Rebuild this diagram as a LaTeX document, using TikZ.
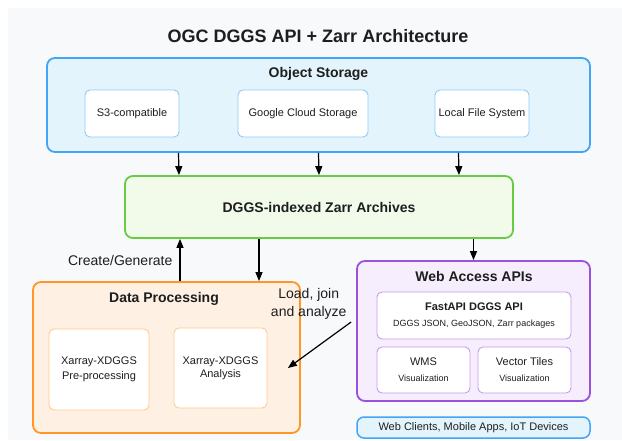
\documentclass[tikz,border=0pt]{standalone}
\usepackage{fontspec}
\setmainfont{Liberation Sans}
\usetikzlibrary{arrows.meta}

\definecolor{bgGray}{HTML}{F8F9FA}
\definecolor{inkDark}{HTML}{1E1E1E}
\definecolor{storeLine}{HTML}{42A5F5}
\definecolor{storeFill}{HTML}{E3F4FD}
\definecolor{storeItem}{HTML}{90CAF9}
\definecolor{zarrLine}{HTML}{66CC44}
\definecolor{zarrFill}{HTML}{F2FAEA}
\definecolor{procLine}{HTML}{FF9626}
\definecolor{procFill}{HTML}{FFF0E4}
\definecolor{procItem}{HTML}{FFCB8E}
\definecolor{webLine}{HTML}{9B51E0}
\definecolor{webFill}{HTML}{F6EEFC}
\definecolor{webItem}{HTML}{C49CF0}

\begin{document}
\begin{tikzpicture}[x=1pt,y=-1pt,
    group/.style={draw,line width=1.8pt,rounded corners=8pt,inner sep=0pt},
    item/.style={draw,line width=0.9pt,rounded corners=5pt,fill=white,inner sep=0pt,
      align=center,text=inkDark,font=\fontsize{11}{14}\selectfont},
    head/.style={text=inkDark,font=\bfseries\fontsize{14}{16}\selectfont},
    arr/.style={-{Triangle[length=9pt,width=7pt]},line width=1.2pt}]
  \useasboundingbox (0,0) rectangle (622,440);
  \fill[bgGray] (8,8) rectangle (622,440);

  % Title
  \node[text=inkDark,font=\bfseries\fontsize{18}{22}\selectfont] (title) at (318,36)
    {OGC DGGS API + Zarr Architecture};

  % Object storage
  \node[group,draw=storeLine,fill=storeFill,minimum width=543pt,minimum height=94pt] (store) at (318.5,105) {};
  \node[head] (storeT) at (318.5,74) {Object Storage};
  \node[item,draw=storeItem,minimum width=94pt,minimum height=47pt] (s3) at (132,113.5) {S3-compatible};
  \node[item,draw=storeItem,minimum width=130pt,minimum height=47pt] (gcs) at (303,113.5) {Google Cloud Storage};
  \node[item,draw=storeItem,minimum width=94pt,minimum height=47pt] (lfs) at (482,113.5) {Local File System};

  % Zarr archives
  \node[group,draw=zarrLine,fill=zarrFill,minimum width=388pt,minimum height=62pt,head] (zarr) at (319,207)
    {DGGS-indexed Zarr Archives};

  % Data processing
  \node[group,draw=procLine,fill=procFill,minimum width=267pt,minimum height=151pt] (proc) at (166.5,357.5) {};
  \node[head] (procT) at (164,299) {Data Processing};
  \node[item,draw=procItem,minimum width=100pt,minimum height=81pt,font=\fontsize{11}{15}\selectfont] (pre) at (99,369.5)
    {Xarray-XDGGS\\Pre-processing};
  \node[item,draw=procItem,minimum width=93pt,minimum height=80pt,font=\fontsize{11}{13}\selectfont] (ana) at (220.5,368)
    {Xarray-XDGGS\\Analysis};

  % Web access
  \node[group,draw=webLine,fill=webFill,minimum width=233pt,minimum height=140pt] (web) at (473.5,331) {};
  \node[head] (webT) at (474,276) {Web Access APIs};
  \node[item,draw=webItem,minimum width=194pt,minimum height=47pt,font=\fontsize{11}{13}\selectfont] (fast) at (474,315.5)
    {\textbf{FastAPI DGGS API}\\[3pt]{\fontsize{9}{11}\selectfont DGGS JSON, GeoJSON, Zarr packages}};
  \node[item,draw=webItem,minimum width=93pt,minimum height=46pt,font=\fontsize{11}{13}\selectfont] (wms) at (423.5,370)
    {WMS\\[3pt]{\fontsize{9}{11}\selectfont Visualization}};
  \node[item,draw=webItem,minimum width=93pt,minimum height=46pt,font=\fontsize{11}{13}\selectfont] (tiles) at (524.5,370)
    {Vector Tiles\\[3pt]{\fontsize{9}{11}\selectfont Visualization}};
  \node[item,draw=storeLine,fill=storeFill,line width=1.5pt,rounded corners=7pt,minimum width=233pt,minimum height=21pt] (clients) at (473.5,427.5)
    {Web Clients, Mobile Apps, IoT Devices};

  % Arrows
  \draw[arr] ([xshift=-140pt]store.south) -- ([xshift=-140pt]zarr.north);
  \draw[arr] (store.south) -- (zarr.north);
  \draw[arr] ([xshift=140pt]store.south) -- ([xshift=140pt]zarr.north);
  \draw[arr] ([xshift=13.5pt]proc.north) -- ([xshift=-139pt]zarr.south)
    node[midway,left=7pt,inner sep=0pt,text=inkDark,font=\fontsize{14}{16}\selectfont] (createL) {Create/Generate};
  \draw[arr] ([xshift=-60pt]zarr.south) -- ([xshift=92.5pt]proc.north);
  \draw[arr] (zarr.south -| web.north) -- (web.north);
  \draw[arr] ([xshift=-5pt,yshift=9pt]web.west)
    node[anchor=south east,xshift=-4pt,yshift=2pt,inner sep=0pt,align=center,text=inkDark,
      font=\fontsize{14}{18}\selectfont] (loadL) {Load, join\\and analyze}
    -- ([xshift=-13pt,yshift=-10.5pt]proc.east);
\end{tikzpicture}
\end{document}
